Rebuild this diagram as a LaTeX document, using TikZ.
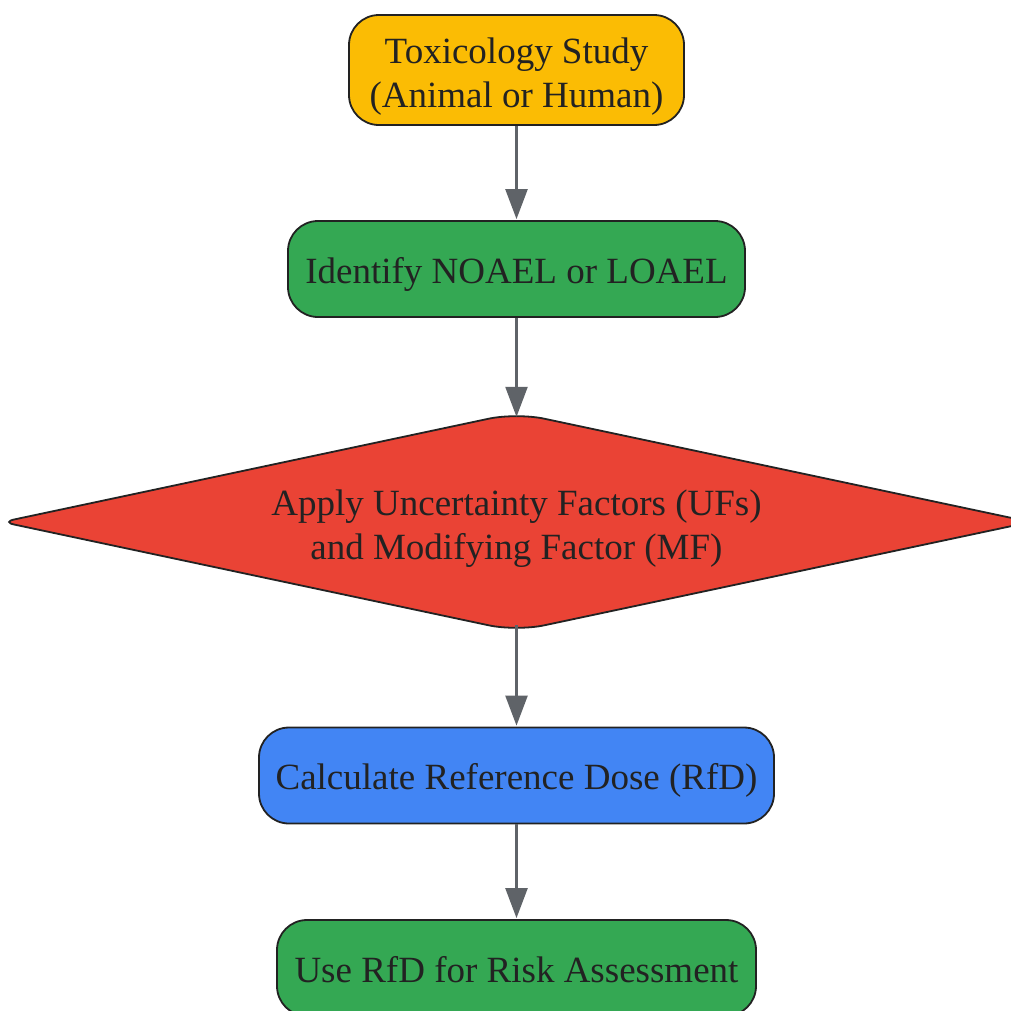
\documentclass[tikz,border=0pt]{standalone}
\usepackage{fontspec}
\setmainfont{Liberation Serif}
\usetikzlibrary{shapes.geometric,arrows.meta,calc}
\definecolor{cyellow}{HTML}{FBBC04}
\definecolor{cgreen}{HTML}{34A853}
\definecolor{cred}{HTML}{EA4335}
\definecolor{cblue}{HTML}{4285F4}
\definecolor{cline}{HTML}{222222}
\definecolor{carrow}{HTML}{5F6368}
\tikzset{
  txt/.style={align=center, inner sep=0pt, font=\fontsize{37}{44}\selectfont, text=cline},
  oneline/.style={text height=38pt, text depth=10pt},
  twoline/.style={text height=84pt, text depth=10pt},
  box/.style={txt, draw=cline, line width=1.8pt, rounded corners=30pt},
  dia/.style={txt, diamond, aspect=4.75},
  diaedge/.style={draw=cline, line width=1.8pt, fill=cred},
  flow/.style={draw=carrow, line width=2.4pt, -{Triangle[length=30pt,width=22pt]}, shorten >=1pt},
}
\begin{document}
\begin{tikzpicture}[x=1pt,y=-1pt]
\useasboundingbox (0,0) rectangle (1011,1010);
\node[box, twoline, fill=cyellow, minimum width=335pt, minimum height=110pt] (a) at (516.5,70) {Toxicology Study\\(Animal or Human)};
\node[box, oneline, fill=cgreen, minimum width=457pt, minimum height=96pt] (b) at (516.5,269) {Identify NOAEL or LOAEL};
\node[dia, minimum width=1028pt, minimum height=218pt] (c) at (516.5,522) {};
\path[diaedge] ($(c.west)!0.5!(c.north)$) [rounded corners=28pt] -- (c.north) -- ($(c.north)!0.5!(c.east)$)
  [rounded corners=12pt] -- (c.east) -- ($(c.east)!0.5!(c.south)$)
  [rounded corners=28pt] -- (c.south) -- ($(c.south)!0.5!(c.west)$)
  [rounded corners=12pt] -- (c.west) -- cycle;
\node[txt, twoline] (ct) at (c.center) {Apply Uncertainty Factors (UFs)\\and Modifying Factor (MF)};
\node[box, oneline, fill=cblue, minimum width=515pt, minimum height=96pt] (d) at (516.5,775.5) {Calculate Reference Dose (RfD)};
\node[box, oneline, fill=cgreen, minimum width=479pt, minimum height=96pt] (e) at (516.5,968) {Use RfD for Risk Assessment};
\draw[flow] (a.south) -- (b.north);
\draw[flow] (b.south) -- ([yshift=-5pt]c.north);
\draw[flow] ([yshift=6pt]c.south) -- (d.north);
\draw[flow] (d.south) -- (e.north);
\end{tikzpicture}
\end{document}
